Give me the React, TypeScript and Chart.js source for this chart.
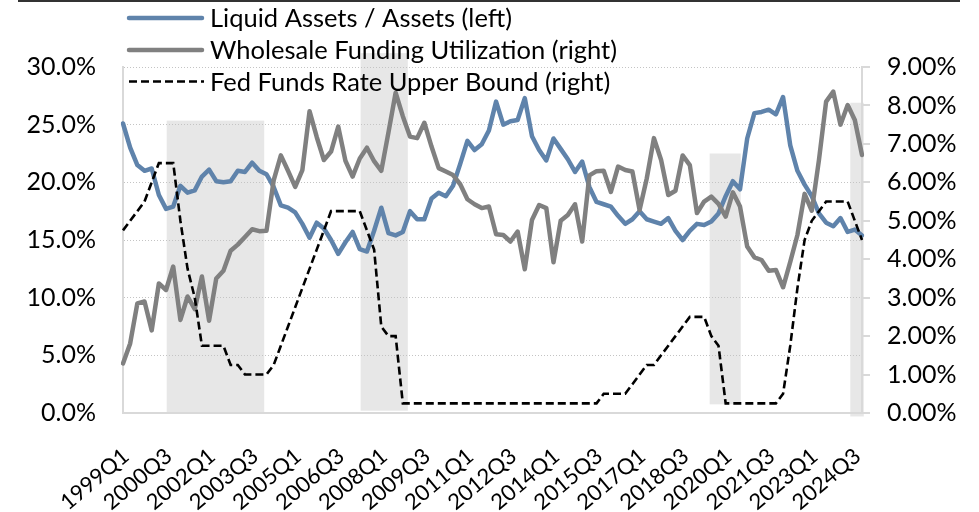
import React, { useEffect, useRef } from 'react';
import { Chart, registerables } from 'chart.js';

Chart.register(...registerables);

// ---- data ----
const startYear = 1999;
const endYear = 2024;
const quarters: string[] = [];
for (let y = startYear; y <= endYear; y++) {
  for (let q = 1; q <= 4; q++) quarters.push(`${y}Q${q}`);
}

// Liquid Assets / Assets (left axis, %)
const liquidAssets: number[] = [
  25.1, 23.0, 21.5, 21.0, 21.2, 18.9, 17.7, 17.9, 19.7, 19.1,
  19.3, 20.5, 21.1, 20.1, 20.0, 20.1, 21.0, 20.9, 21.7, 21.0,
  20.7, 19.6, 18.0, 17.8, 17.4, 16.4, 15.2, 16.5, 16.0, 15.0,
  13.8, 14.8, 15.7, 14.2, 14.0, 15.8, 17.8, 15.6, 15.4, 15.7,
  17.5, 16.8, 16.8, 18.6, 19.1, 18.8, 19.7, 21.6, 23.6, 22.8,
  23.3, 24.5, 27.0, 25.0, 25.3, 25.4, 27.3, 24.0, 22.8, 21.9,
  23.8, 22.9, 22.0, 20.9, 21.8, 19.6, 18.3, 18.1, 17.9, 17.1,
  16.4, 16.8, 17.5, 16.8, 16.6, 16.4, 16.9, 15.8, 15.0, 15.8,
  16.4, 16.3, 16.6, 17.3, 18.8, 20.1, 19.4, 23.8, 26.0, 26.1,
  26.3, 25.9, 27.4, 23.2, 21.0, 19.8, 18.8, 17.3, 16.5, 16.2,
  16.9, 15.7, 15.9, 15.4,
];

// Wholesale Funding Utilization (right axis, %)
const wholesaleFunding: number[] = [
  1.29, 1.81, 2.85, 2.90, 2.15, 3.37, 3.20, 3.81, 2.42, 3.03,
  2.70, 3.55, 2.40, 3.50, 3.70, 4.22, 4.38, 4.58, 4.78, 4.73,
  4.74, 6.05, 6.70, 6.30, 5.88, 6.32, 7.85, 7.18, 6.58, 6.80,
  7.45, 6.56, 6.15, 6.62, 6.90, 6.55, 6.30, 7.30, 8.33, 7.72,
  7.19, 7.15, 7.55, 6.93, 6.37, 6.28, 6.19, 5.95, 5.56, 5.43,
  5.33, 5.37, 4.65, 4.63, 4.46, 4.72, 3.74, 5.02, 5.41, 5.33,
  3.92, 5.00, 5.15, 5.43, 4.46, 6.18, 6.29, 6.30, 5.75, 6.41,
  6.32, 6.28, 5.28, 6.10, 7.15, 6.58, 5.67, 5.78, 6.70, 6.45,
  5.20, 5.50, 5.63, 5.44, 5.11, 5.74, 5.37, 4.33, 4.05, 3.98,
  3.70, 3.72, 3.27, 3.93, 4.63, 5.70, 5.26, 6.58, 8.10, 8.36,
  7.50, 8.01, 7.62, 6.71,
];

// Fed Funds Rate Upper Bound (right axis, %)
const fedFunds: number[] = [
  4.75, 5.0, 5.25, 5.5, 6.0, 6.5, 6.5, 6.5, 5.0, 3.75,
  3.0, 1.75, 1.75, 1.75, 1.75, 1.25, 1.25, 1.0, 1.0, 1.0,
  1.0, 1.25, 1.75, 2.25, 2.75, 3.25, 3.75, 4.25, 4.75, 5.25,
  5.25, 5.25, 5.25, 5.25, 4.75, 4.25, 2.25, 2.0, 2.0, 0.25,
  0.25, 0.25, 0.25, 0.25, 0.25, 0.25, 0.25, 0.25, 0.25, 0.25,
  0.25, 0.25, 0.25, 0.25, 0.25, 0.25, 0.25, 0.25, 0.25, 0.25,
  0.25, 0.25, 0.25, 0.25, 0.25, 0.25, 0.25, 0.5, 0.5, 0.5,
  0.5, 0.75, 1.0, 1.25, 1.25, 1.5, 1.75, 2.0, 2.25, 2.5,
  2.5, 2.5, 2.0, 1.75, 0.25, 0.25, 0.25, 0.25, 0.25, 0.25,
  0.25, 0.25, 0.5, 1.75, 3.25, 4.5, 5.0, 5.25, 5.5, 5.5,
  5.5, 5.5, 5.0, 4.5,
];

// shaded periods (category index range, left-axis top/bottom %)
const shadeFrom: number[] = [6.09, 33.12, 81.77, 101.37];
const shadeTo: number[] = [19.68, 39.7, 86.1, 103.25];
const shadeTop: number[] = [25.35, 31.2, 22.5, 26.9];
const shadeBottom: number[] = [0, 0.2, 0.75, -0.3];

const leftTicks = { min: 0, max: 30, step: 5 };
const rightTicks = { min: 0, max: 9, step: 1 };

const seriesNames = [
  'Liquid Assets / Assets (left)',
  'Wholesale Funding Utilization (right)',
  'Fed Funds Rate Upper Bound (right)',
];

const BLUE = '#5f83ab';
const GRAY = '#808080';
const FONT = 'Lato, "Open Sans", sans-serif';
const LEGEND_SIZE = 25.5;
const YTICK_SIZE = 25;
const XTICK_SIZE = 22;

const shadePlugin = {
  id: 'shades',
  beforeDraw(chart: any) {
    const { ctx, scales } = chart;
    const x = scales.x;
    const y = scales.y;
    ctx.save();
    ctx.fillStyle = '#e7e7e7';
    for (let i = 0; i < shadeFrom.length; i++) {
      const x1 = x.getPixelForValue(shadeFrom[i]);
      const x2 = x.getPixelForValue(shadeTo[i]);
      const y1 = y.getPixelForValue(shadeTop[i]);
      const y2 = y.getPixelForValue(shadeBottom[i]);
      ctx.fillRect(x1, y1, x2 - x1, y2 - y1);
    }
    ctx.restore();
  },
};

const legendPlugin = {
  id: 'customLegend',
  afterDraw(chart: any) {
    const { ctx } = chart;
    const x0 = 129;
    const x1 = 202;
    const tx = 210;
    const rows = [18, 50, 81.5];
    ctx.save();
    ctx.lineCap = 'round';
    ctx.strokeStyle = BLUE;
    ctx.lineWidth = 4.5;
    ctx.beginPath();
    ctx.moveTo(x0, rows[0]);
    ctx.lineTo(x1, rows[0]);
    ctx.stroke();
    ctx.strokeStyle = GRAY;
    ctx.beginPath();
    ctx.moveTo(x0, rows[1]);
    ctx.lineTo(x1, rows[1]);
    ctx.stroke();
    ctx.lineCap = 'butt';
    ctx.strokeStyle = '#000';
    ctx.lineWidth = 2.6;
    ctx.setLineDash([8, 4]);
    ctx.beginPath();
    ctx.moveTo(x0, rows[2]);
    ctx.lineTo(x1 + 2, rows[2]);
    ctx.stroke();
    ctx.setLineDash([]);
    ctx.fillStyle = '#000';
    ctx.font = `${LEGEND_SIZE}px ${FONT}`;
    ctx.textBaseline = 'middle';
    ctx.textAlign = 'left';
    for (let i = 0; i < 3; i++) ctx.fillText(seriesNames[i], tx, rows[i] + 1);
    ctx.restore();
  },
};

export default function App() {
  const ref = useRef<HTMLCanvasElement | null>(null);

  useEffect(() => {
    if (!ref.current) return;
    const chart = new Chart(ref.current, {
      type: 'line',
      data: {
        labels: quarters,
        datasets: [
          {
            label: seriesNames[0],
            data: liquidAssets,
            yAxisID: 'y',
            borderColor: BLUE,
            borderWidth: 4.5,
            pointRadius: 0,
            borderCapStyle: 'round',
            borderJoinStyle: 'round',
            tension: 0,
            order: 3,
          },
          {
            label: seriesNames[1],
            data: wholesaleFunding,
            yAxisID: 'y1',
            borderColor: GRAY,
            borderWidth: 4.5,
            pointRadius: 0,
            borderCapStyle: 'round',
            borderJoinStyle: 'round',
            tension: 0,
            order: 2,
          },
          {
            label: seriesNames[2],
            data: fedFunds,
            yAxisID: 'y1',
            borderColor: '#000',
            borderWidth: 2.6,
            borderDash: [8, 4],
            pointRadius: 0,
            tension: 0,
            order: 1,
          },
        ],
      },
      options: {
        responsive: false,
        animation: false,
        devicePixelRatio: 1,
        layout: { padding: { top: 67, left: 0, right: 0, bottom: 0 } },
        plugins: {
          legend: { display: false },
          tooltip: { enabled: false },
          title: { display: false },
        },
        scales: {
          x: {
            type: 'category',
            offset: false,
            grid: { display: false, drawTicks: false },
            border: { display: true, color: '#d9d9d9', width: 2 },
            ticks: {
              autoSkip: false,
              minRotation: 40,
              maxRotation: 40,
              padding: 30,
              labelOffset: 3,
              color: '#000',
              font: { family: FONT, size: XTICK_SIZE },
              callback: (_v: any, i: number) => (i % 6 === 0 ? quarters[i] : ''),
            },
            afterFit: (s: any) => {
              s.height = 99;
            },
          },
          y: {
            position: 'left',
            min: leftTicks.min,
            max: leftTicks.max,
            grid: { color: '#c4c4c4', lineWidth: 1, drawTicks: false },
            border: { display: true, color: '#d9d9d9', width: 2, dash: [1, 2] },
            ticks: {
              stepSize: leftTicks.step,
              padding: 27,
              color: '#000',
              font: { family: FONT, size: YTICK_SIZE },
              callback: (v: any) => Number(v).toFixed(1) + '%',
            },
            afterFit: (s: any) => {
              s.width = 123;
            },
          },
          y1: {
            position: 'right',
            min: rightTicks.min,
            max: rightTicks.max,
            grid: {
              drawOnChartArea: false,
              drawTicks: true,
              tickLength: 8,
              color: '#d9d9d9',
              lineWidth: 2,
            },
            border: { display: true, color: '#d9d9d9', width: 2 },
            ticks: {
              stepSize: rightTicks.step,
              padding: 17,
              color: '#000',
              font: { family: FONT, size: YTICK_SIZE },
              callback: (v: any) => Number(v).toFixed(2) + '%',
            },
            afterFit: (s: any) => {
              s.width = 117;
            },
          },
        },
      },
      plugins: [shadePlugin, legendPlugin],
    } as any);
    return () => chart.destroy();
  }, []);

  return (
    <div
      style={{
        position: 'fixed',
        left: 0,
        top: 0,
        width: 979,
        height: 512,
        background: '#fff',
        overflow: 'hidden',
      }}
    >
      <canvas ref={ref} width={979} height={512} style={{ display: 'block', width: 979, height: 512 }} />
      <div
        style={{
          position: 'absolute',
          left: 18,
          top: 0,
          width: 942,
          height: 2,
          background: '#333',
        }}
      />
    </div>
  );
}
